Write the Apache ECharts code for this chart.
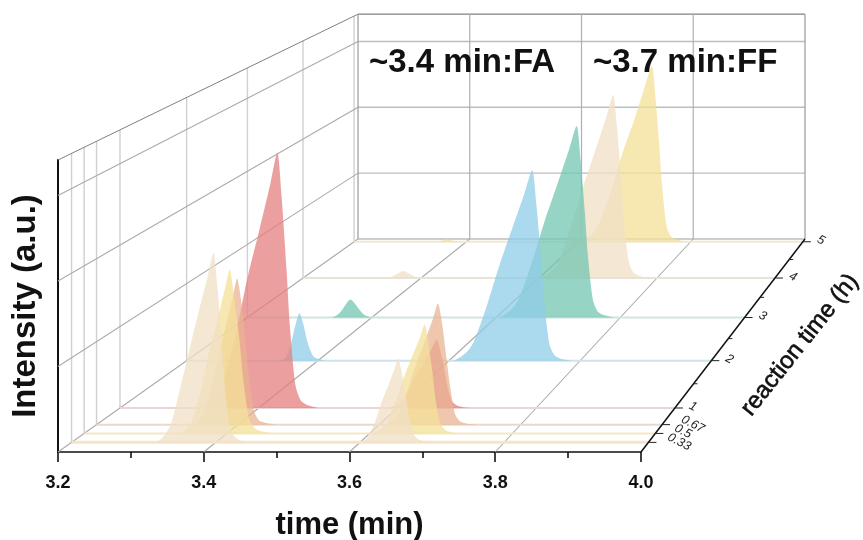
<!DOCTYPE html>
<html><head><meta charset="utf-8">
<style>html,body{margin:0;padding:0;background:#fff}#c{width:863px;height:540px}</style>
<script src="https://cdn.jsdelivr.net/npm/echarts@6/dist/echarts.min.js"></script>
</head><body><div id="c"></div>
<script>
// ---------- data ----------
const reactionTimes = [5, 4, 3, 2, 1, 0.67, 0.5, 0.33];
const reactionLabels = ['5', '4', '3', '2', '1', '0.67', '0.5', '0.33'];
const reactionMinorTicks = [4.5, 3.5, 2.5, 1.5];
const timeTicks = [3.2, 3.4, 3.6, 3.8, 4.0];
const intensityTicks = [0, 1, 2, 3];
const notes = ['~3.4 min:FA', '~3.7 min:FF'];

const t5 = [3.345,3.355,3.366,3.377,3.387, 3.605,3.615,3.626,3.636,3.658,3.678,3.700,3.718,3.731,3.737,3.744,3.749,3.757,3.765,3.776,3.791];
const y5 = [0,0.015,0.04,0.015,0, 0,0.05,0.13,0.27,0.77,1.33,1.86,2.34,2.66,2.21,1.46,0.85,0.24,0.08,0.03,0];
const t4 = [3.342,3.350,3.360,3.370,3.380,3.390,3.400, 3.604,3.614,3.625,3.635,3.655,3.675,3.696,3.714,3.726,3.732,3.739,3.744,3.752,3.760,3.771,3.786];
const y4 = [0,0.015,0.06,0.10,0.06,0.015,0, 0,0.05,0.13,0.26,0.77,1.32,1.85,2.32,2.64,2.19,1.45,0.84,0.24,0.08,0.03,0];
const t3 = [3.336,3.344,3.352,3.359,3.366,3.373,3.381,3.389,3.400, 3.606,3.616,3.627,3.637,3.658,3.678,3.699,3.718,3.730,3.736,3.743,3.748,3.756,3.764,3.775,3.790];
const y3 = [0,0.03,0.10,0.19,0.246,0.19,0.10,0.03,0, 0,0.05,0.13,0.26,0.76,1.31,1.83,2.31,2.62,2.17,1.44,0.84,0.24,0.08,0.03,0];
const t2 = [3.345,3.352,3.360,3.366,3.372,3.378,3.385,3.394,3.410, 3.608,3.618,3.628,3.638,3.658,3.677,3.697,3.715,3.727,3.733,3.740,3.745,3.753,3.761,3.772,3.787];
const y2 = [0,0.05,0.25,0.47,0.616,0.47,0.22,0.05,0, 0,0.05,0.12,0.25,0.72,1.24,1.73,2.17,2.47,2.05,1.36,0.79,0.22,0.07,0.02,0];
const t1 = [3.323,3.331,3.341,3.349,3.367,3.383,3.401,3.417,3.427,3.433,3.440,3.445,3.453,3.461,3.472,3.487, 3.589,3.594,3.601,3.606,3.618,3.628,3.640,3.650,3.657,3.662,3.668,3.672,3.679,3.686,3.695,3.707];
const y1 = [0,0.06,0.16,0.31,0.91,1.57,2.19,2.76,3.135,2.60,1.72,1.00,0.28,0.09,0.03,0, 0,0.02,0.04,0.08,0.24,0.42,0.59,0.74,0.84,0.70,0.46,0.27,0.08,0.03,0.01,0];
const t067 = [3.339,3.344,3.349,3.354,3.364,3.374,3.384,3.393,3.399,3.405,3.411,3.416,3.423,3.430,3.440,3.454, 3.609,3.615,3.622,3.628,3.640,3.652,3.665,3.676,3.683,3.689,3.695,3.700,3.707,3.714,3.724,3.738];
const y067 = [0,0.04,0.09,0.18,0.51,0.88,1.23,1.55,1.76,1.46,0.97,0.56,0.16,0.05,0.02,0, 0,0.03,0.07,0.15,0.42,0.73,1.02,1.28,1.46,1.21,0.80,0.47,0.13,0.04,0.01,0];
const t05 = [3.336,3.341,3.348,3.353,3.365,3.375,3.387,3.397,3.404,3.410,3.418,3.423,3.431,3.439,3.451,3.466, 3.606,3.612,3.618,3.624,3.636,3.647,3.659,3.670,3.677,3.682,3.688,3.692,3.699,3.706,3.715,3.727];
const y05 = [0,0.04,0.10,0.20,0.57,0.98,1.37,1.72,1.96,1.63,1.08,0.63,0.18,0.06,0.02,0, 0,0.03,0.07,0.13,0.38,0.65,0.91,1.14,1.30,1.08,0.72,0.42,0.12,0.04,0.01,0];
const t033 = [3.318,3.324,3.331,3.338,3.351,3.364,3.377,3.389,3.397,3.402,3.408,3.412,3.419,3.426,3.435,3.447, 3.601,3.605,3.610,3.614,3.623,3.631,3.640,3.648,3.653,3.658,3.664,3.668,3.675,3.682,3.691,3.703];
const y033 = [0,0.04,0.11,0.22,0.65,1.12,1.57,1.97,2.24,1.86,1.23,0.72,0.20,0.07,0.02,0, 0,0.02,0.05,0.10,0.29,0.50,0.69,0.87,0.99,0.82,0.54,0.32,0.09,0.03,0.01,0];
const allTimes = [t5, t4, t3, t2, t1, t067, t05, t033];
const allIntensity = [y5, y4, y3, y2, y1, y067, y05, y033];

// ---------- styles ----------
const colors = ['#F4E098','#F0E0C6','#73C6B3','#8FCCE7','#E4807F','#EAB393','#F4E098','#F0E0C6'];
const lineColors = ['#EFE8D4','#E8E2D8','#CFE5E0','#CFE3EA','#EDD3D3','#EBD8CC','#F3E9C6','#F5E4C8'];
const lineWidths = [2, 2, 2, 2, 2, 2, 2, 3];
const YMAX = 3.415, RMIN = 0.15, RMAX = 5.08, PERSP = 0.25;
const BACK_DX = 300, BACK_DY = 213, BACK_SX = 447 / 583, BACK_SY = 0.77;

function depth(r) { const d = (r - RMIN) / (RMAX - RMIN); return (1 + PERSP) * d / (1 + PERSP * d); }
function project(api, t, z, f) {
  const p = api.coord([t, z]), o = api.coord([3.2, 0]);
  const dx = p[0] - o[0], dy = p[1] - o[1];
  const bx = o[0] + BACK_DX + dx * BACK_SX, by = o[1] - BACK_DY + dy * BACK_SY;
  return [p[0] + (bx - p[0]) * f, p[1] + (by - p[1]) * f];
}
function seg(a, b, stroke, width) {
  return { type: 'line', shape: { x1: a[0], y1: a[1], x2: b[0], y2: b[1] }, style: { stroke, lineWidth: width, fill: null }, silent: true };
}
function gridRender(params, api) {
  const c = [], wall = '#bdbdbd', floor = '#ababab', edge = '#808080';
  const top = YMAX;
  reactionTimes.forEach(r => { const f = depth(r); c.push(seg(project(api, 3.2, 0, f), project(api, 3.2, top, f), '#d0d0d0', 1.4)); });
  intensityTicks.slice(1).forEach(z => {
    c.push(seg(project(api, 3.2, z, 0), project(api, 3.2, z, 1), floor, 1.1));
    c.push(seg(project(api, 3.2, z, 1), project(api, 4, z, 1), wall, 1.4));
  });
  c.push(seg(project(api, 3.2, top, 0), project(api, 3.2, top, 1), edge, 1));
  c.push(seg(project(api, 3.2, top, 1), project(api, 4, top, 1), edge, 1.1));
  c.push(seg(project(api, 3.2, 0, 1), project(api, 4, 0, 1), wall, 1.4));
  timeTicks.forEach((t, i) => {
    c.push(seg(project(api, t, 0, 1), project(api, t, top, 1), (i === 0 || i === 4) ? '#999' : '#b0b0b0', 1.2));
    if (i < 4) c.push(seg(project(api, t, 0, 0), project(api, t, 0, 1), floor, 1.1));
  });
  return { type: 'group', children: c };
}
function axisRender(params, api) {
  const c = [];
  c.push(seg(project(api, 4, 0, 0), project(api, 4, 0, 1), '#111', 1.5));
  reactionTimes.forEach((r, i) => {
    const p = project(api, 4, 0, depth(r));
    c.push(seg(p, [p[0] + 8, p[1]], '#222', 1));
    const single = reactionLabels[i].length === 1;
    c.push({ type: 'text', x: p[0] + (single ? 15 : 20), y: p[1] + (single ? -3 : -6), rotation: -0.48, silent: true,
      style: { text: reactionLabels[i], fill: '#222', font: 'italic 12.5px "Liberation Sans"', align: 'left', verticalAlign: 'middle' } });
  });
  reactionMinorTicks.forEach(r => { const p = project(api, 4, 0, depth(r)); c.push(seg(p, [p[0] + 4, p[1]], '#222', 1)); });
  return { type: 'group', children: c };
}
function peakRender(idx) {
  return function (params, api) {
    const ts = allTimes[idx], ys = allIntensity[idx], f = depth(reactionTimes[idx]);
    const c = [];
    c.push(seg(project(api, 3.2, 0, f), project(api, 4, 0, f), lineColors[idx], lineWidths[idx]));
    let run = [];
    const flush = () => { if (run.length) c.push({ type: 'polyline', shape: { points: run.map(q => project(api, q[0], q[1], f)), smooth: 0.25 }, style: { fill: colors[idx], stroke: null, opacity: 0.75 }, silent: true }); run = []; };
    ts.forEach((t, i) => { if (i > 0 && ys[i] === 0 && ys[i - 1] === 0) flush(); run.push([t, ys[i]]); });
    flush();
    return { type: 'group', children: c };
  };
}
const series = [{ type: 'custom', silent: true, clip: false, renderItem: gridRender, data: [[3.2, 0]], z: 1 }];
reactionTimes.forEach((r, i) => series.push({ type: 'custom', name: String(r), silent: true, clip: false, renderItem: peakRender(i), data: [[3.2, 0]], z: 2 + i }));
series.push({ type: 'custom', silent: true, clip: false, renderItem: axisRender, data: [[3.2, 0]], z: 20 });

const chart = echarts.init(document.getElementById('c'), null, { renderer: 'canvas' });
chart.setOption({
  animation: false,
  backgroundColor: '#fff',
  grid: { left: 58, top: 160, width: 583, height: 292, containLabel: false, outerBoundsMode: 'none' },
  xAxis: {
    type: 'value', min: 3.2, max: 4.0, interval: 0.2, name: 'time (min)', nameLocation: 'middle', nameGap: 58,
    nameTextStyle: { fontFamily: 'Liberation Sans', fontWeight: 'bold', fontSize: 31, color: '#111' },
    axisLine: { lineStyle: { color: '#111', width: 1.6 } },
    axisTick: { show: true, length: 10, lineStyle: { color: '#111', width: 1.6 } },
    minorTick: { show: true, splitNumber: 2, length: 6, lineStyle: { color: '#111', width: 1.6 } },
    axisLabel: { fontFamily: 'Liberation Sans', fontWeight: 'bold', fontSize: 18, color: '#111', margin: 22, formatter: v => v.toFixed(1), showMinLabel: true, showMaxLabel: true },
    splitLine: { show: false }
  },
  yAxis: {
    type: 'value', min: 0, max: YMAX, interval: 1, name: 'Intensity (a.u.)', nameLocation: 'middle', nameGap: 16, nameRotate: 90,
    nameTextStyle: { fontFamily: 'Liberation Sans', fontWeight: 'bold', fontSize: 33, color: '#111' },
    axisLine: { show: true, lineStyle: { color: '#111', width: 2 } },
    axisTick: { show: false }, axisLabel: { show: false }, splitLine: { show: false }
  },
  series,
  graphic: [
    { type: 'text', left: 369, top: 46, silent: true, z: 30, style: { text: notes[0], font: 'bold 33px "Liberation Sans"', fill: '#111' } },
    { type: 'text', left: 593, top: 46, silent: true, z: 30, style: { text: notes[1], font: 'bold 33px "Liberation Sans"', fill: '#111' } },
    { type: 'text', x: 800, y: 345, rotation: 0.9, silent: true, z: 30, style: { text: 'reaction time (h)', font: '24px "Liberation Sans"', fill: '#111', stroke: '#111', lineWidth: 0.6, align: 'center', verticalAlign: 'middle' } }
  ]
});
</script></body></html>
